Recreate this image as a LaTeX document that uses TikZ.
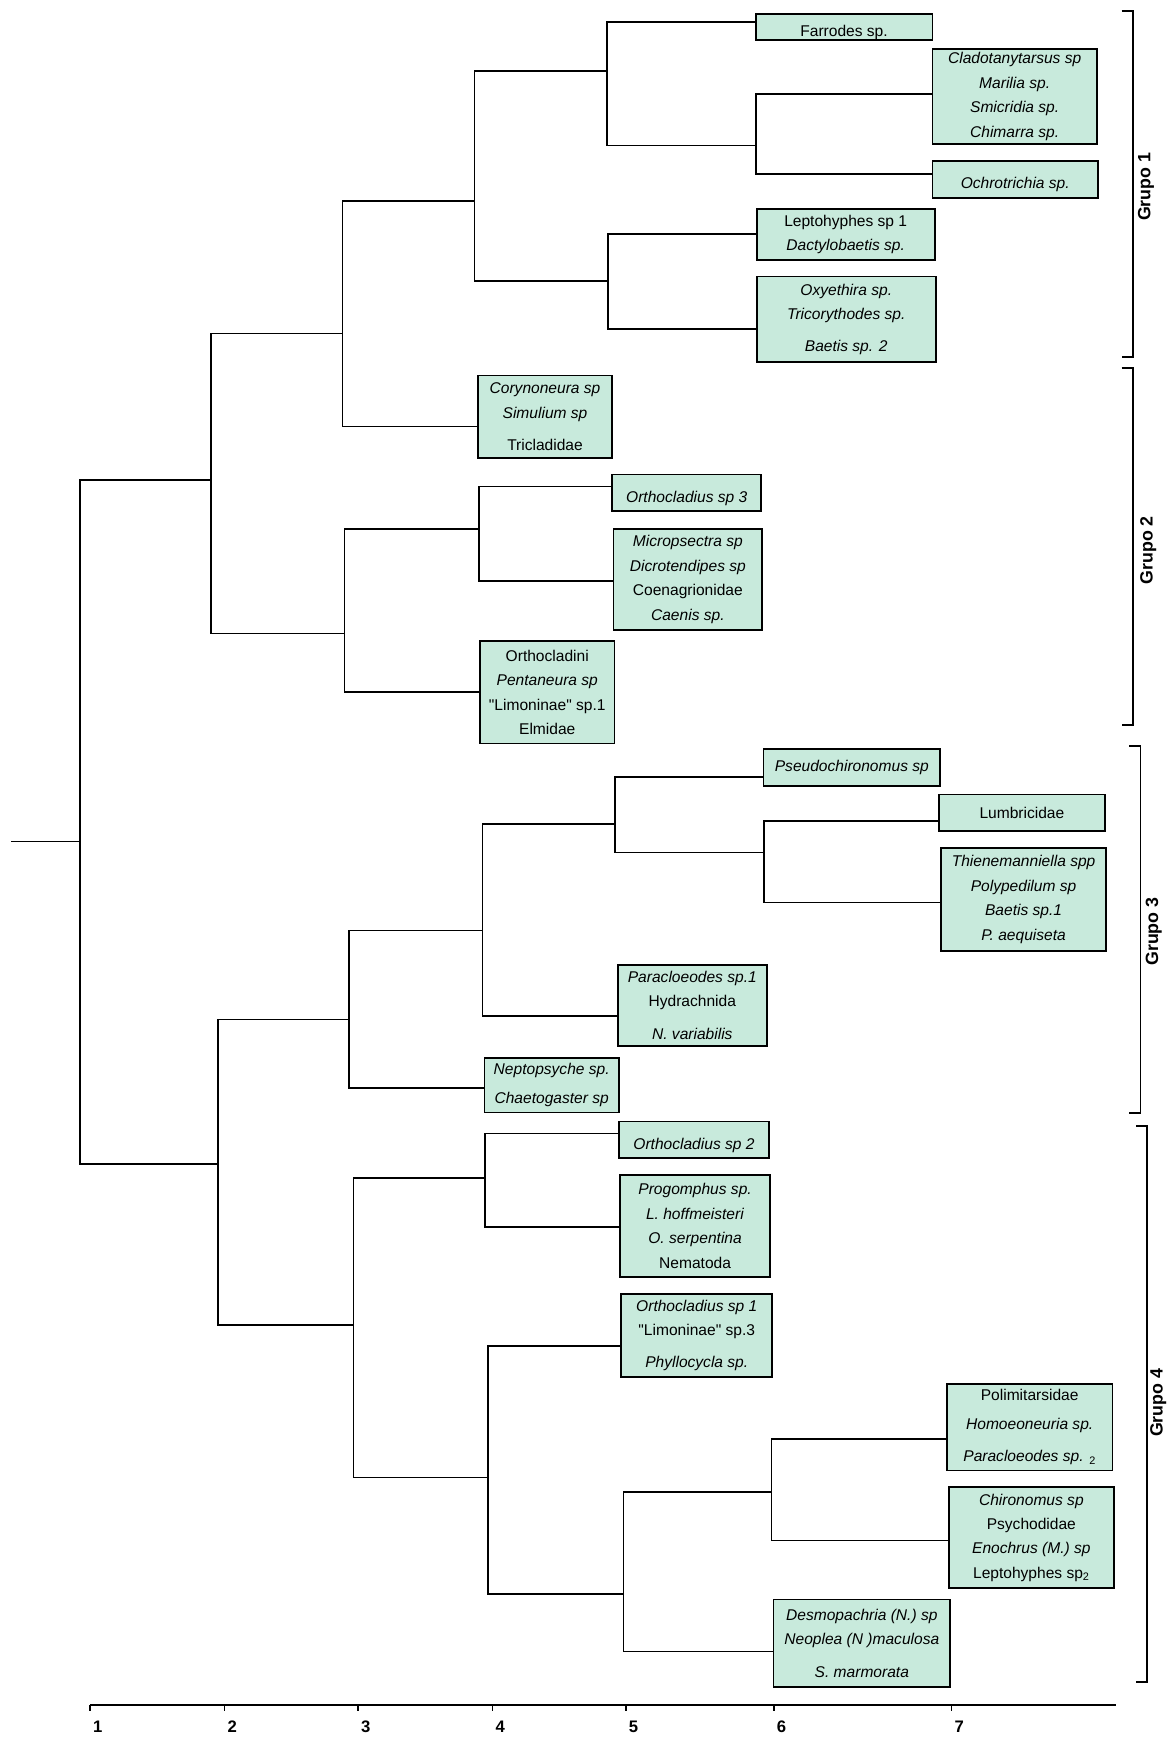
\documentclass[tikz,border=0pt]{standalone}
\usepackage{fontspec}
\setmainfont{Liberation Sans}
\definecolor{taxonfill}{RGB}{200,234,220}
\newcommand{\straightquote}{\XeTeXglyph\XeTeXcharglyph"22\relax}

\begin{document}
\begin{tikzpicture}[x=1pt, y=-1pt,
    taxon/.style={rectangle, draw, line width=1.6pt, fill=taxonfill, anchor=north west, inner sep=1pt, align=center, font=\fontsize{14}{22}\selectfont},
    lowtext/.style={text height=18pt, text depth=1pt},
    branch/.style={line width=1.5pt},
    grupo/.style={rotate=90, font=\fontsize{16}{18}\selectfont\bfseries},
    scalelabel/.style={font=\fontsize{15}{17}\selectfont\bfseries}]

    \useasboundingbox (0,0) rectangle (1056,1568);

    \node[taxon, lowtext, minimum width=159pt, minimum height=23pt] (farrodes) at (679,12) {Farrodes sp.};
    \node[taxon, minimum width=148pt, minimum height=86pt] (clado) at (838,43) {\textit{Cladotanytarsus sp}\\\textit{Marilia sp.}\\\textit{Smicridia sp.}\\\textit{Chimarra sp.}};
    \node[taxon, lowtext, minimum width=149pt, minimum height=33pt] (ochro) at (838,144) {\textit{Ochrotrichia sp.}};
    \node[taxon, minimum width=160pt, minimum height=46pt] (lepto) at (680,187) {Leptohyphes sp 1\\\textit{Dactylobaetis sp.}};
    \node[taxon, minimum width=161pt, minimum height=77pt] (oxy) at (680,248) {\textit{Oxyethira sp.}\\\textit{Tricorythodes sp.}\\[7pt]\textit{Baetis sp. 2}};
    \node[taxon, minimum width=121pt, minimum height=74pt] (coryno) at (429,337) {\textit{Corynoneura sp}\\\textit{Simulium sp}\\[7pt]Tricladidae};
    \node[taxon, lowtext, minimum width=134pt, minimum height=33pt] (ortho3) at (550,426) {\textit{Orthocladius sp 3}};
    \node[taxon, minimum width=134pt, minimum height=91pt] (micro) at (551,475) {\textit{Micropsectra sp}\\\textit{Dicrotendipes sp}\\Coenagrionidae\\\textit{Caenis sp.}};
    \node[taxon, minimum width=121pt, minimum height=92pt] (orthocladini) at (431,576) {Orthocladini\\\textit{Pentaneura sp}\\\straightquote Limoninae\straightquote{} sp.1\\Elmidae};

    \node[taxon, minimum width=159pt, minimum height=33pt] (pseudo) at (686,673) {\textit{Pseudochironomus sp}};
    \node[taxon, minimum width=149pt, minimum height=33pt] (lumbri) at (844,714) {Lumbricidae};
    \node[taxon, minimum width=148pt, minimum height=93pt] (thien) at (846,762) {\textit{Thienemanniella spp}\\\textit{Polypedilum sp}\\\textit{Baetis sp.1}\\\textit{P. aequiseta}};
    \node[taxon, minimum width=134pt, minimum height=73pt] (paracl) at (555,867) {\textit{Paracloeodes sp.1}\\Hydrachnida\\[7pt]\textit{N. variabilis}};
    \node[taxon, minimum width=121pt, minimum height=49pt] (nepto) at (435,951) {\textit{Neptopsyche sp.}\\[4pt]\textit{Chaetogaster sp}};
    \node[taxon, lowtext, minimum width=135pt, minimum height=33pt] (ortho2) at (556,1008) {\textit{Orthocladius sp 2}};
    \node[taxon, minimum width=135pt, minimum height=92pt] (progo) at (557,1056) {\textit{Progomphus sp.}\\\textit{L. hoffmeisteri}\\\textit{O. serpentina}\\Nematoda};
    \node[taxon, minimum width=136pt, minimum height=75pt] (ortho1) at (558,1163) {\textit{Orthocladius sp 1}\\\straightquote Limoninae\straightquote{} sp.3\\[7pt]\textit{Phyllocycla sp.}};
    \node[taxon, minimum width=149pt, minimum height=78pt] (polimi) at (851,1244) {Polimitarsidae\\[4pt]\textit{Homoeoneuria sp.}\\[7pt]\textit{Paracloeodes sp.} \textsubscript{2}};
    \node[taxon, minimum width=148pt, minimum height=91pt] (chiro) at (853,1337) {\textit{Chironomus sp}\\Psychodidae\\\textit{Enochrus (M.) sp}\\Leptohyphes sp\textsubscript{2}};
    \node[taxon, minimum width=159pt, minimum height=79pt] (desmo) at (695,1438) {\textit{Desmopachria (N.) sp}\\\textit{Neoplea (N )maculosa}\\[7pt]\textit{S. marmorata}};

    \coordinate (root) at (10,757);
    \coordinate (j1) at (72,757);
    \coordinate (j2) at (190,432);
    \coordinate (j3) at (308,300);
    \coordinate (j4) at (427,181);
    \coordinate (j5) at (546,64);
    \coordinate (j6) at (680,131);
    \coordinate (j7) at (547,253);
    \coordinate (j8) at (310,570);
    \coordinate (j9) at (431,476);
    \coordinate (j10) at (196,1047);
    \coordinate (j11) at (314,917);
    \coordinate (j12) at (434,837);
    \coordinate (j13) at (553,741);
    \coordinate (j14) at (687,767);
    \coordinate (j15) at (318,1192);
    \coordinate (j16) at (436,1060);
    \coordinate (j17) at (439,1329);
    \coordinate (j18) at (561,1434);
    \coordinate (j19) at (694,1342);

    \draw[branch] (root) -- (j1);
    \draw[branch] (j1) |- (j2);
    \draw[branch] (j1) |- (j10);
    \draw[branch] (j2) |- (j3);
    \draw[branch] (j2) |- (j8);
    \draw[branch] (j3) |- (j4);
    \draw[branch] (j3) |- ([yshift=-9pt]coryno.west);
    \draw[branch] (j4) |- (j5);
    \draw[branch] (j4) |- (j7);
    \draw[branch] (j5) |- ([yshift=4.5pt]farrodes.west);
    \draw[branch] (j5) |- (j6);
    \draw[branch] (j6) |- ([yshift=2pt]clado.west);
    \draw[branch] (j6) |- ([yshift=4.5pt]ochro.west);
    \draw[branch] (j7) |- (lepto.west);
    \draw[branch] (j7) |- ([yshift=-8.5pt]oxy.west);
    \draw[branch] (j8) |- (j9);
    \draw[branch] (j8) |- (orthocladini.west);
    \draw[branch] (j9) |- ([yshift=5.5pt]ortho3.west);
    \draw[branch] (j9) |- ([yshift=-1.5pt]micro.west);

    \draw[branch] (j10) |- (j11);
    \draw[branch] (j10) |- (j15);
    \draw[branch] (j11) |- (j12);
    \draw[branch] (j11) |- ([yshift=-2.5pt]nepto.west);
    \draw[branch] (j12) |- (j13);
    \draw[branch] (j12) |- ([yshift=-9.5pt]paracl.west);
    \draw[branch] (j13) |- ([yshift=-8.5pt]pseudo.west);
    \draw[branch] (j13) |- (j14);
    \draw[branch] (j14) |- ([yshift=-7.5pt]lumbri.west);
    \draw[branch] (j14) |- ([yshift=-2.5pt]thien.west);
    \draw[branch] (j15) |- (j16);
    \draw[branch] (j15) |- (j17);
    \draw[branch] (j16) |- ([yshift=5.5pt]ortho2.west);
    \draw[branch] (j16) |- ([yshift=-1pt]progo.west);
    \draw[branch] (j17) |- ([yshift=-9.5pt]ortho1.west);
    \draw[branch] (j17) |- (j18);
    \draw[branch] (j18) |- (j19);
    \draw[branch] (j18) |- ([yshift=-7.5pt]desmo.west);
    \draw[branch] (j19) |- ([yshift=-11pt]polimi.west);
    \draw[branch] (j19) |- ([yshift=-2.5pt]chiro.west);

    \foreach \x/\ya/\yb/\lx/\ly/\n in {1019/10/321/1031/168/1, 1019/331/652/1033/495/2, 1026/671/1001/1038/838/3, 1032/1013/1513/1042/1262/4} {
        \draw[branch] (\x-10,\ya) -- (\x,\ya) -- (\x,\yb) -- (\x-10,\yb);
        \node[grupo] (grupo\n) at (\lx,\ly) {Grupo \n};
    }

    \draw[branch] (81,1534) -- (1004,1534);
    \foreach \x/\n in {81/1, 202/2, 322/3, 443/4, 563/5, 696/6, 856/7} {
        \draw[branch] (\x,1534) -- (\x,1539);
        \node[scalelabel] (tick\n) at (\x+7,1553) {\n};
    }
\end{tikzpicture}
\end{document}
